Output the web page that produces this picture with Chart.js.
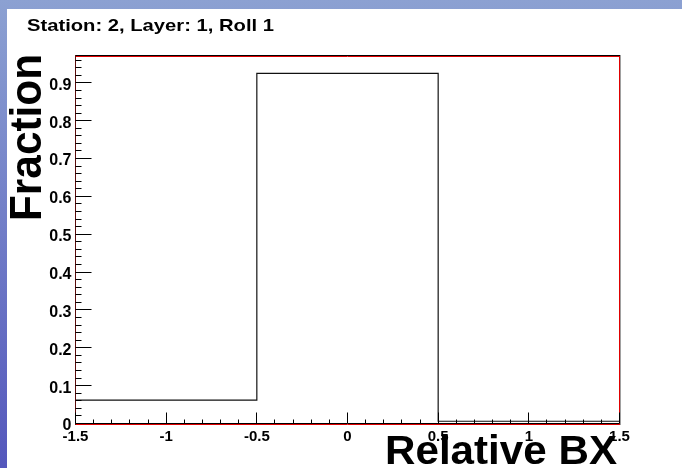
<!DOCTYPE html>
<html>
<head>
<meta charset="utf-8">
<script src="https://cdn.jsdelivr.net/npm/chart.js@4/dist/chart.umd.min.js"></script>
<style>
  html, body { margin: 0; padding: 0; background: #fff; overflow: hidden; }
  canvas { display: block; }
</style>
</head>
<body>
<canvas id="c" width="682" height="468"></canvas>
<script>
// Histogram: fraction of hits per relative bunch crossing
const binEdges = [-1.5, -0.5, 0.5, 1.5];
const fractions = [0.062, 0.925, 0.006];

const xTickValues = [-1.5, -1, -0.5, 0, 0.5, 1, 1.5];
const xTickLabels = ['-1.5', '-1', '-0.5', '0', '0.5', '1', '1.5'];
const yTickValues = [0, 0.1, 0.2, 0.3, 0.4, 0.5, 0.6, 0.7, 0.8, 0.9];
const yTickLabels = ['0', '0.1', '0.2', '0.3', '0.4', '0.5', '0.6', '0.7', '0.8', '0.9'];
const yMax = 0.971;

const titleText = 'Station: 2, Layer: 1, Roll 1';
const xTitleText = 'Relative BX';
const yTitleText = 'Fraction';

const FONT = '"Liberation Sans", Arial, Helvetica, sans-serif';

// step points: each bin's low edge carries the bin value, closing point at the last edge
const stepPoints = binEdges.map((e, i) => ({ x: e, y: fractions[Math.min(i, fractions.length - 1)] }));

function drawScaledText(ctx, text, size, x, y, targetWidth, rotate) {
  ctx.save();
  ctx.font = 'bold ' + size + 'px ' + FONT;
  const w = ctx.measureText(text).width;
  ctx.translate(x, y);
  if (rotate) ctx.rotate(-Math.PI / 2);
  ctx.scale(targetWidth / w, 1);
  ctx.fillStyle = '#000';
  ctx.textAlign = 'left';
  ctx.textBaseline = 'alphabetic';
  ctx.fillText(text, 0, 0);
  ctx.restore();
}

const canvasDecor = {
  id: 'canvasDecor',
  beforeDraw(chart) {
    const ctx = chart.ctx;
    ctx.save();
    const g = ctx.createLinearGradient(0, 0, 0, chart.height);
    g.addColorStop(0, '#8ca1d2');
    g.addColorStop(1, '#5457bc');
    ctx.fillStyle = g;
    ctx.fillRect(0, 0, chart.width, chart.height);
    ctx.fillStyle = '#ffffff';
    ctx.fillRect(7, 9, chart.width - 7, chart.height - 9);
    ctx.restore();
  },
  afterDraw(chart) {
    const ctx = chart.ctx;
    const a = chart.chartArea;
    const xs = chart.scales.x, ys = chart.scales.y;
    ctx.save();

    // frame
    ctx.lineWidth = 1;
    ctx.strokeStyle = '#000';
    ctx.beginPath();
    ctx.moveTo(a.left, a.top - 0.5); ctx.lineTo(a.right + 1, a.top - 0.5);
    ctx.moveTo(a.left, a.bottom); ctx.lineTo(a.right, a.bottom);
    ctx.stroke();
    ctx.strokeStyle = '#e00000';
    ctx.beginPath();
    ctx.moveTo(a.left, a.top + 0.5); ctx.lineTo(a.right, a.top + 0.5);
    ctx.moveTo(a.right, a.top); ctx.lineTo(a.right, a.bottom + 1.5);
    ctx.moveTo(a.left, a.bottom + 1); ctx.lineTo(a.right, a.bottom + 1);
    ctx.stroke();
    ctx.strokeStyle = '#a0a0a0';
    ctx.beginPath();
    ctx.moveTo(a.right + 1, a.top - 1); ctx.lineTo(a.right + 1, a.bottom + 1.5);
    ctx.stroke();
    ctx.strokeStyle = '#5a0c0c';
    ctx.beginPath();
    ctx.moveTo(a.left, a.top - 1); ctx.lineTo(a.left, a.bottom + 1.5);
    ctx.stroke();

    // tick marks (inward)
    ctx.strokeStyle = '#000';
    ctx.beginPath();
    for (let k = -15; k <= 15; k++) {
      const px = Math.round(xs.getPixelForValue(k / 10) - 0.5) + 0.5;
      const len = (k % 5 === 0) ? 11 : 4;
      ctx.moveTo(px, a.bottom); ctx.lineTo(px, a.bottom - len);
    }
    for (let k = 0; k * 0.02 <= yMax; k++) {
      const py = Math.round(ys.getPixelForValue(k * 0.02) - 0.5) + 0.5;
      const len = (k % 5 === 0) ? 16 : 6;
      ctx.moveTo(a.left, py); ctx.lineTo(a.left + len, py);
    }
    ctx.stroke();
    ctx.restore();

    // texts
    drawScaledText(ctx, titleText, 17, 27, 31, 247, false);
    drawScaledText(ctx, yTitleText, 44, 41, 221, 167, true);
    drawScaledText(ctx, xTitleText, 40, 385, 464, 232, false);
  }
};

Chart.defaults.font.family = FONT;
Chart.defaults.font.weight = 'bold';
Chart.defaults.color = '#000';

new Chart(document.getElementById('c'), {
  type: 'line',
  data: {
    datasets: [{
      data: stepPoints,
      stepped: 'before',
      borderColor: '#111',
      borderWidth: 1.2,
      pointRadius: 0,
      fill: false,
      tension: 0
    }]
  },
  options: {
    responsive: false,
    animation: false,
    events: [],
    layout: { padding: { top: 56, right: 62.5, left: 0, bottom: 0 } },
    plugins: { legend: { display: false }, tooltip: { enabled: false }, title: { display: false } },
    scales: {
      x: {
        type: 'linear',
        min: binEdges[0],
        max: binEdges[binEdges.length - 1],
        grid: { display: false, drawTicks: false, tickLength: 0 },
        border: { display: false },
        afterFit(scale) { scale.height = 44.5; },
        afterBuildTicks(scale) { scale.ticks = xTickValues.map(v => ({ value: v })); },
        ticks: {
          autoSkip: false,
          maxRotation: 0,
          padding: 4,
          font: { size: 15, weight: 'bold' },
          callback: (v) => xTickLabels[xTickValues.indexOf(v)]
        }
      },
      y: {
        type: 'linear',
        min: 0,
        max: yMax,
        grid: { display: false, drawTicks: false, tickLength: 0 },
        border: { display: false },
        afterFit(scale) { scale.width = 75.5; },
        afterBuildTicks(scale) { scale.ticks = yTickValues.map(v => ({ value: v })); },
        ticks: {
          autoSkip: false,
          padding: 4,
          labelOffset: 2.5,
          font: { size: 16, weight: 'bold' },
          callback: (v) => yTickLabels[yTickValues.indexOf(v)]
        }
      }
    }
  },
  plugins: [canvasDecor]
});
</script>
</body>
</html>
